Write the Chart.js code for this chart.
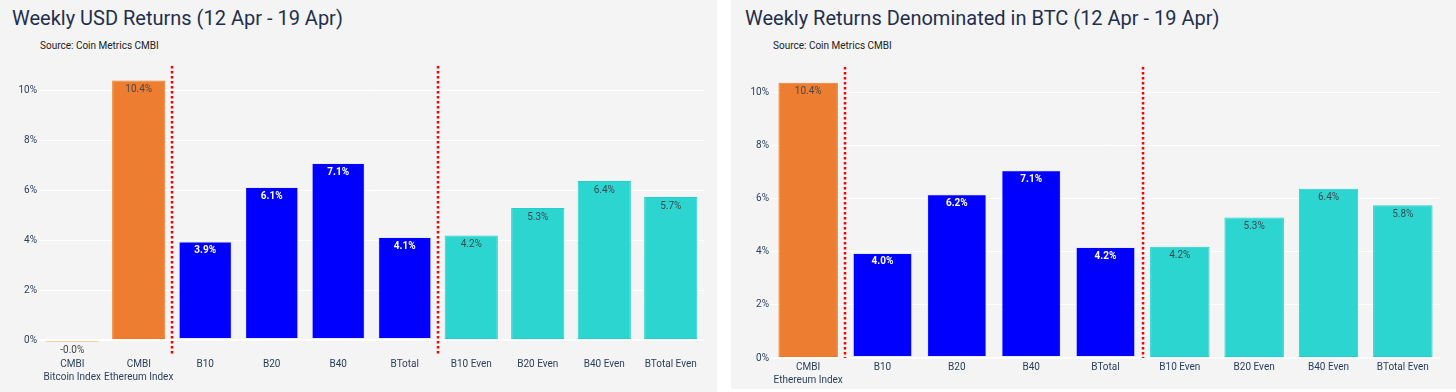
<!DOCTYPE html>
<html><head><meta charset="utf-8">
<script src="https://cdn.jsdelivr.net/npm/chart.js@4.4.1/dist/chart.umd.min.js"></script>
<style>
html,body{margin:0;padding:0;background:#fff;width:1456px;height:392px;overflow:hidden;font-family:Roboto,'Open Sans',sans-serif;}
.panel{position:absolute;top:0;background:#f4f4f4;}
#p1{left:0;width:717px;height:392px;}
#p2{left:731px;width:725px;height:389px;}
.title{position:absolute;font-size:20px;color:#1f2f4f;white-space:nowrap;line-height:1;}
.sub{position:absolute;font-size:10px;color:#222;white-space:nowrap;line-height:1;}
canvas{position:absolute;left:0;top:0;}
</style></head>
<body>
<div class="panel" id="p1">
  <div class="title" style="left:12px;top:8px">Weekly USD Returns (12 Apr - 19 Apr)</div>
  <div class="sub" style="left:40px;top:41px">Source: Coin Metrics CMBI</div>
  <canvas id="c1" width="717" height="392"></canvas>
</div>
<div class="panel" id="p2">
  <div class="title" style="left:14px;top:8px">Weekly Returns Denominated in BTC (12 Apr - 19 Apr)</div>
  <div class="sub" style="left:42px;top:41px">Source: Coin Metrics CMBI</div>
  <canvas id="c2" width="725" height="392"></canvas>
</div>
<script>
// ---- data ----
const usdCategories = [['CMBI','Bitcoin Index'], ['CMBI','Ethereum Index'], 'B10', 'B20', 'B40', 'BTotal', 'B10 Even', 'B20 Even', 'B40 Even', 'BTotal Even'];
const usdValues = [-0.02, 10.38, 3.94, 6.12, 7.08, 4.12, 4.18, 5.28, 6.36, 5.72];
const usdGroups = ['btc', 'eth', 'cap', 'cap', 'cap', 'cap', 'even', 'even', 'even', 'even'];
const usdDividers = [1.5, 5.5];

const btcCategories = [['CMBI','Ethereum Index'], 'B10', 'B20', 'B40', 'BTotal', 'B10 Even', 'B20 Even', 'B40 Even', 'BTotal Even'];
const btcValues = [10.38, 3.96, 6.17, 7.08, 4.18, 4.19, 5.30, 6.38, 5.76];
const btcGroups = ['eth', 'cap', 'cap', 'cap', 'cap', 'even', 'even', 'even', 'even'];
const btcDividers = [0.5, 4.5];

const yTickValues = [0, 2, 4, 6, 8, 10];

// ---- styles ----
const STYLE = {
  btc:  {fill:'#f5d594', border:'#f5d594', text:'#444', bold:false},
  eth:  {fill:'#ed7d31', border:'#f0791f', text:'#4a4a4a', bold:false},
  cap:  {fill:'#0000ff', border:'#e6e6ff', text:'#ffffff', bold:true},
  even: {fill:'#2dd5d1', border:'#1fd0cb', text:'#3d4a4f', bold:false}
};
const FONT = 'Roboto';
const TICK_COLOR = '#2a3f5f';

Chart.defaults.font.family = FONT;
Chart.defaults.devicePixelRatio = 1;

function makeChart(id, cats, vals, groups, dividers, cfg) {
  const textPlugin = {
    id: 'barText_' + id,
    afterDatasetsDraw(chart) {
      const ctx = chart.ctx;
      const meta = chart.getDatasetMeta(0);
      const zeroY = chart.scales.y.getPixelForValue(0);
      ctx.save();
      ctx.textAlign = 'center';
      ctx.textBaseline = 'middle';
      meta.data.forEach((bar, i) => {
        const v = vals[i];
        const st = STYLE[groups[i]];
        ctx.font = (st.bold ? 'bold ' : '') + '10px ' + FONT;
        ctx.fillStyle = v < 0 ? '#444' : st.text;
        const y = v < 0 ? zeroY + 10 : bar.y + 9;
        ctx.fillText(v.toFixed(1) + '%', bar.x, y);
      });
      ctx.restore();
    }
  };
  const dividerPlugin = {
    id: 'div_' + id,
    afterDatasetsDraw(chart) {
      const ctx = chart.ctx, xs = chart.scales.x, a = chart.chartArea;
      ctx.save();
      ctx.strokeStyle = '#ff0000';
      ctx.lineWidth = 2.5;
      ctx.setLineDash([2.5, 2.5]);
      dividers.forEach(d => {
        const x = Math.round((xs.getPixelForValue(Math.floor(d)) + xs.getPixelForValue(Math.ceil(d))) / 2);
        ctx.beginPath();
        ctx.moveTo(x, a.top);
        ctx.lineTo(x, a.bottom);
        ctx.stroke();
      });
      ctx.restore();
    }
  };
  return new Chart(document.getElementById(id), {
    type: 'bar',
    data: {
      labels: cats,
      datasets: [{
        data: vals,
        backgroundColor: groups.map(g => STYLE[g].fill),
        borderColor: groups.map(g => STYLE[g].border),
        borderWidth: 1,
        borderSkipped: false,
        minBarLength: 2,
        categoryPercentage: 1,
        barPercentage: 0.8
      }]
    },
    options: {
      responsive: false,
      animation: false,
      layout: {padding: {left: 0, right: cfg.padRight, top: cfg.padTop, bottom: 0}},
      plugins: {legend: {display: false}, tooltip: {enabled: false}},
      scales: {
        x: {
          grid: {display: false, drawTicks: false},
          border: {display: false},
          ticks: {color: TICK_COLOR, font: {size: 10, lineHeight: 1.3}, padding: 3, autoSkip: false, maxRotation: 0, minRotation: 0},
          afterFit(s) { s.height = cfg.xHeight; }
        },
        y: {
          min: cfg.min, max: cfg.max,
          afterBuildTicks(s) { s.ticks = yTickValues.map(v => ({value: v})); },
          grid: {color: '#ffffff', lineWidth: c => (c.tick && c.tick.value === 0 ? 2 : 1), drawTicks: false},
          border: {display: false},
          ticks: {color: TICK_COLOR, font: {size: 10}, padding: cfg.tickPad, callback: v => v + '%'},
          afterFit(s) { s.width = cfg.yWidth; }
        }
      }
    },
    plugins: [textPlugin, dividerPlugin]
  });
}

makeChart('c1', usdCategories, usdValues, usdGroups, usdDividers,
  {min: -0.6, max: 10.96, padTop: 66, padRight: 13, xHeight: 37, yWidth: 39, tickPad: 2});
makeChart('c2', btcCategories, btcValues, btcGroups, btcDividers,
  {min: 0, max: 10.97, padTop: 67, padRight: 16, xHeight: 34, yWidth: 40, tickPad: 2});
</script>
</body></html>
